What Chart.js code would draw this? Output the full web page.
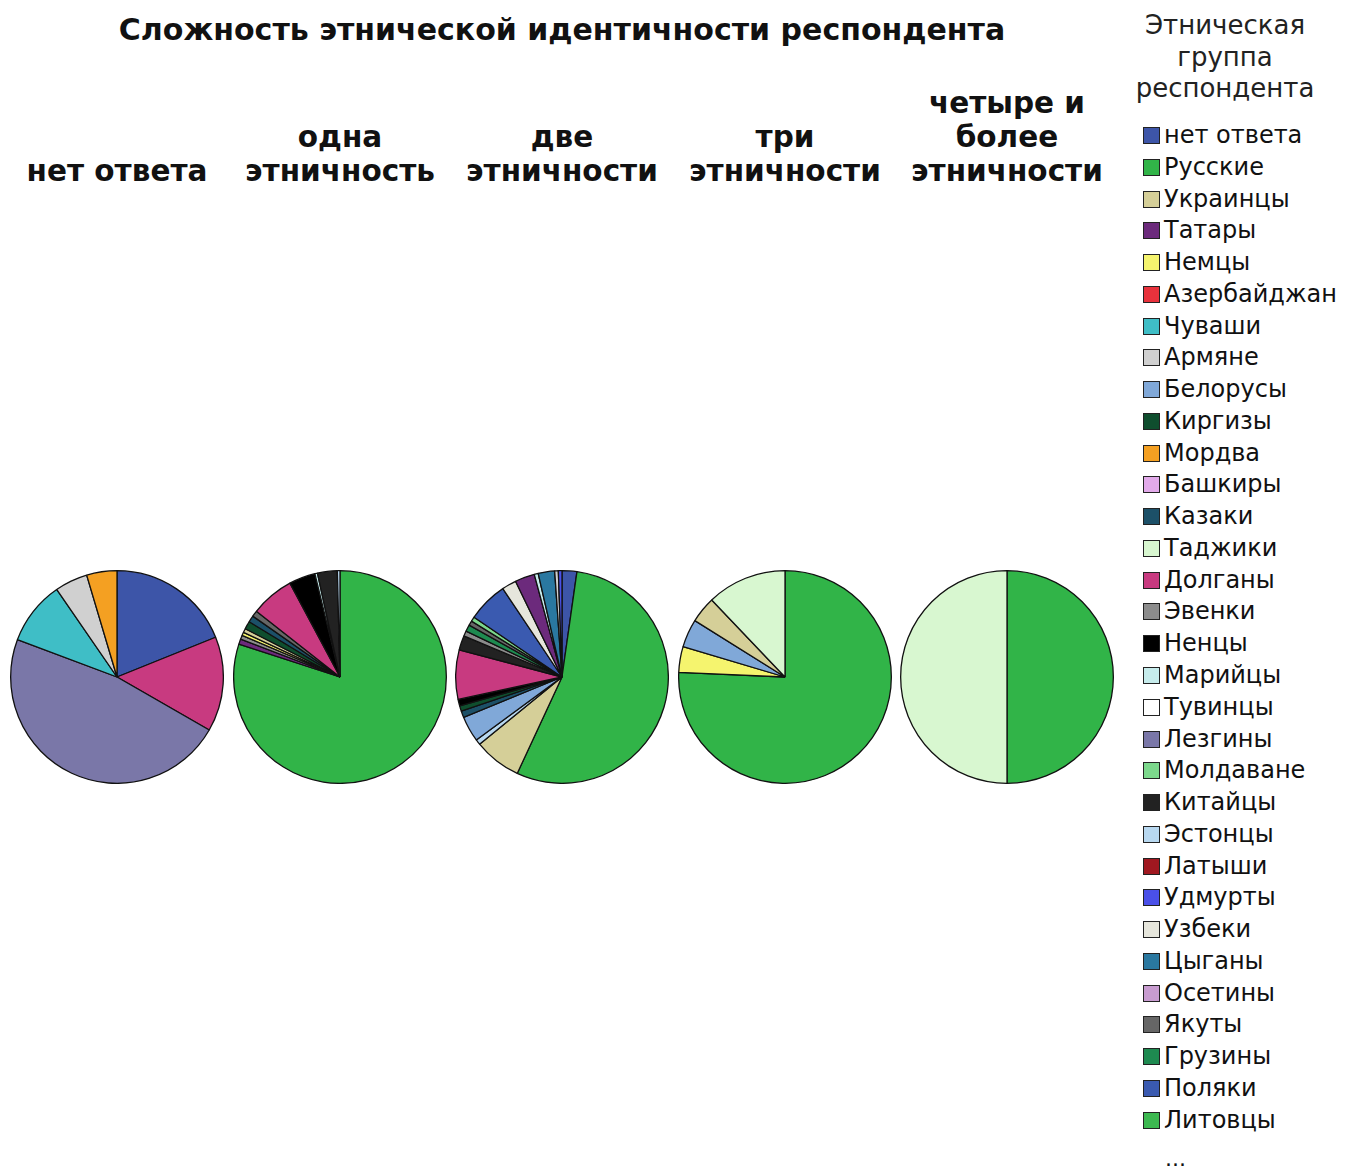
<!DOCTYPE html>
<html>
<head>
<meta charset="utf-8">
<script src="https://cdn.jsdelivr.net/npm/chart.js@4.4.1/dist/chart.umd.min.js"></script>
<style>
  body { margin: 0; background: #fff; width: 1354px; height: 1169px; position: relative; overflow: hidden; }
  .title { position: absolute; font-family: "DejaVu Sans", sans-serif; font-weight: bold; color: #111; white-space: nowrap; }
  #mainTitle { left: 0; width: 1124px; top: 12px; text-align: center; font-size: 30px; }
  .panelTitle { position: absolute; bottom: calc(1169px - 188px); width: 222px; text-align: center; font-size: 29.5px; line-height: 34px; }
  .pie { position: absolute; top: 570px; }
  #legendTitle { position: absolute; left: 1114px; width: 222px; top: 10px; text-align: center; font-family: "DejaVu Sans", sans-serif; font-size: 26px; line-height: 31.5px; color: #222; }
  #legend { position: absolute; left: 1140px; top: 120px; width: 198px; overflow: hidden; font-family: "DejaVu Sans", sans-serif; font-size: 24px; color: #111; }
  .item { height: 31.77px; line-height: 31.77px; white-space: nowrap; }
  .sw { display: inline-block; width: 15px; height: 15px; border: 1.5px solid #222; margin: 0 4px 0 3px; vertical-align: -1px; }
  #more { position: absolute; left: 1165px; top: 1146px; font-family: "DejaVu Sans", sans-serif; font-size: 22px; color: #111; }
</style>
</head>
<body>
<div id="mainTitle" class="title">Сложность этнической идентичности респондента</div>
<div id="panels"></div>
<div id="legendTitle">Этническая<br>группа<br>респондента</div>
<div id="legend"></div>
<div id="more">...</div>
<script>
// Ethnic groups (legend order) and their colours
const groups = ['нет ответа', 'Русские', 'Украинцы', 'Татары', 'Немцы', 'Азербайджанцы',
  'Чуваши', 'Армяне', 'Белорусы', 'Киргизы', 'Мордва', 'Башкиры', 'Казаки', 'Таджики',
  'Долганы', 'Эвенки', 'Ненцы', 'Марийцы', 'Тувинцы', 'Лезгины', 'Молдаване', 'Китайцы',
  'Эстонцы', 'Латыши', 'Удмурты', 'Узбеки', 'Цыганы', 'Осетины', 'Якуты', 'Грузины',
  'Поляки', 'Литовцы'];
const groupColors = ['#3d55a8', '#31b448', '#d5cf98', '#6c2a7c', '#f5f46e', '#e8323c',
  '#3fbec6', '#d0d0d0', '#80a8d8', '#0f4e2e', '#f4a022', '#e2aaea', '#1c5068', '#d8f7d0',
  '#c83a80', '#8c8c8c', '#000000', '#c6ecec', '#ffffff', '#7a77a8', '#7cd88c', '#222222',
  '#b8d8f0', '#a01820', '#4a50e8', '#e6e6dc', '#2a78a0', '#c89cd0', '#666666', '#1e8a50',
  '#3a5ab0', '#3cb850'];

const panelTitles = ['нет ответа', 'одна\nэтничность', 'две\nэтничности', 'три\nэтничности',
  'четыре и\nболее\nэтничности'];

// Slices of each pie in drawing order (clockwise from 12 o'clock), in percent
const noAnswerGroups = ['нет ответа', 'Долганы', 'Лезгины', 'Чуваши', 'Армяне', 'Мордва'];
const noAnswerValues = [18.9, 14.4, 47.4, 9.7, 5.0, 4.6];

const oneGroups = ['Русские', 'Татары', 'Эвенки', 'Немцы', 'Украинцы', 'Киргизы', 'Казаки',
  'Якуты', 'Долганы', 'Ненцы', 'Марийцы', 'Китайцы', 'Эстонцы'];
const oneValues = [80.0, 0.8, 0.6, 0.5, 0.6, 1.2, 1.0, 0.9, 6.6, 4.0, 0.4, 3.0, 0.4];

const twoGroups = ['нет ответа', 'Русские', 'Украинцы', 'Эстонцы', 'Белорусы', 'Казаки',
  'Киргизы', 'Ненцы', 'Долганы', 'Китайцы', 'Эвенки', 'Грузины', 'Якуты', 'Молдаване',
  'Поляки', 'Узбеки', 'Татары', 'Марийцы', 'Цыганы', 'Армяне', 'Удмурты'];
const twoValues = [2.25, 54.7, 7.2, 0.8, 3.9, 1.0, 0.8, 1.0, 7.5, 2.2, 0.8, 1.0, 0.7, 0.7,
  6.1, 2.2, 3.0, 0.6, 2.5, 0.55, 0.55];

const threeGroups = ['Русские', 'Немцы', 'Белорусы', 'Украинцы', 'Таджики'];
const threeValues = [75.7, 3.9, 4.3, 4.0, 12.1];

const fourGroups = ['Русские', 'Таджики'];
const fourValues = [50, 50];

const pieGroups = [noAnswerGroups, oneGroups, twoGroups, threeGroups, fourGroups];
const pieValues = [noAnswerValues, oneValues, twoValues, threeValues, fourValues];

function colorOf(name) {
    return groupColors[groups.indexOf(name)];
}

const centersX = [117, 340, 562, 785, 1007];
const panels = document.getElementById('panels');

for (let i = 0; i < pieGroups.length; i++) {
    // panel title
    const t = document.createElement('div');
    t.className = 'title panelTitle';
    t.style.left = (centersX[i] - 111) + 'px';
    t.innerHTML = panelTitles[i].split('\n').join('<br>');
    panels.appendChild(t);

    // pie
    const c = document.createElement('canvas');
    c.className = 'pie';
    c.width = 214;
    c.height = 214;
    c.style.left = (centersX[i] - 107) + 'px';
    panels.appendChild(c);

    new Chart(c, {
        type: 'pie',
        data: {
            labels: pieGroups[i],
            datasets: [{
                data: pieValues[i],
                backgroundColor: pieGroups[i].map(colorOf),
                borderColor: '#111',
                borderWidth: 1.3
            }]
        },
        options: {
            responsive: false,
            animation: false,
            layout: { padding: 0 },
            plugins: { legend: { display: false }, tooltip: { enabled: false } }
        }
    });
}

// legend
const legend = document.getElementById('legend');
groups.forEach(function (g, k) {
    const row = document.createElement('div');
    row.className = 'item';
    row.innerHTML = '<span class="sw" style="background:' + groupColors[k] + '"></span>' + g;
    legend.appendChild(row);
});
</script>
</body>
</html>
